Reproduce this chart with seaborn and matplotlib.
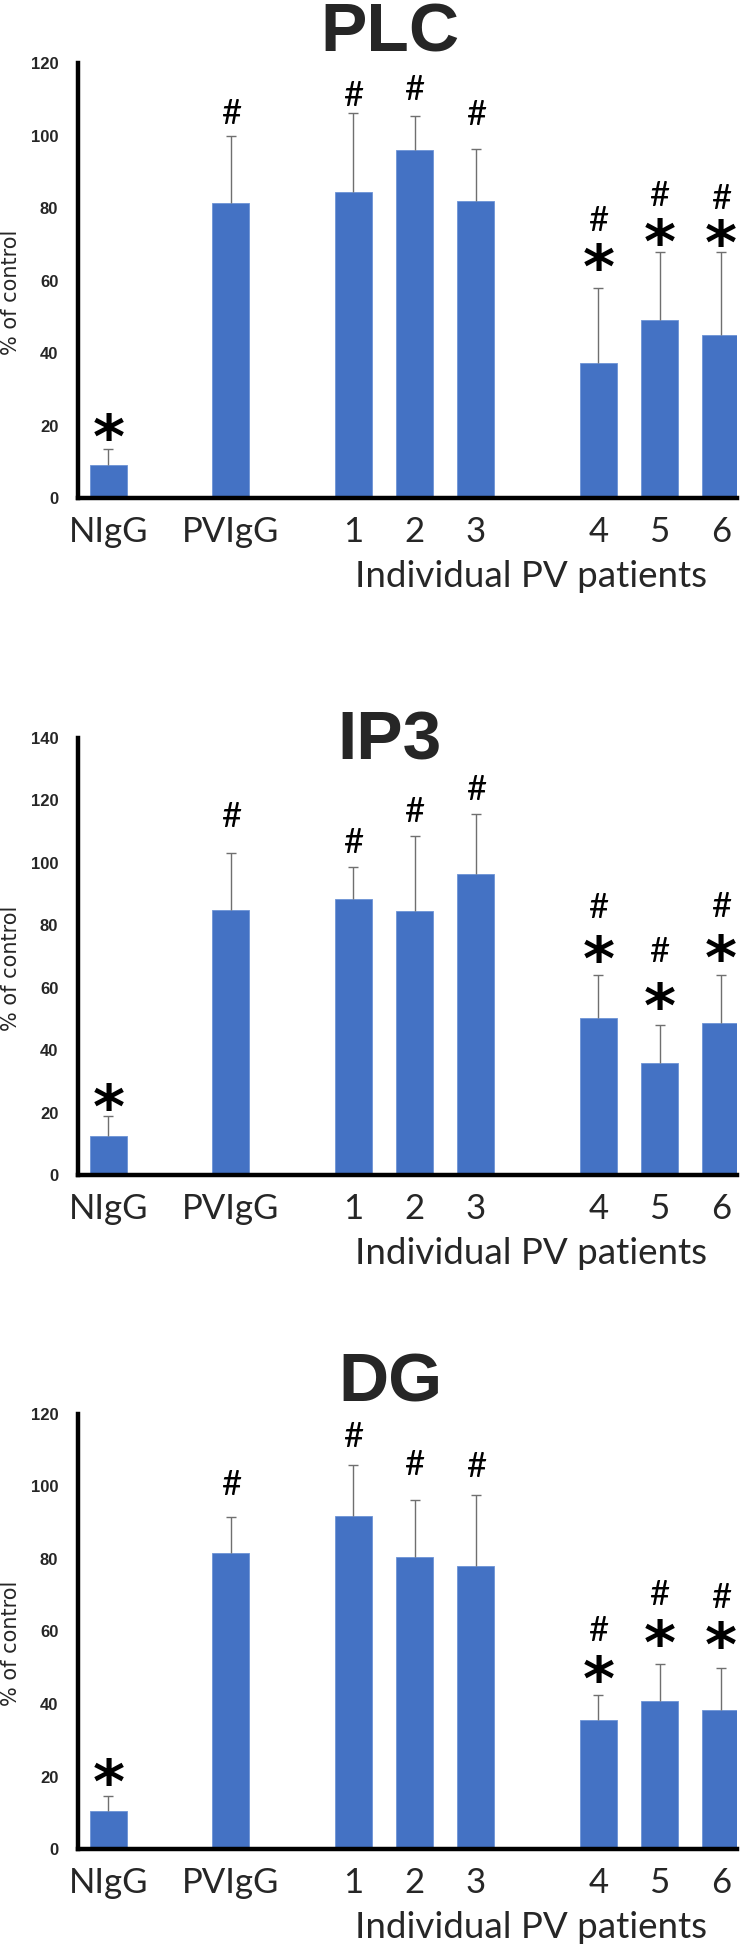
import numpy as np
import pandas as pd
import matplotlib
matplotlib.use("Agg")
import matplotlib.pyplot as plt
from matplotlib.font_manager import FontProperties
from matplotlib.textpath import TextPath
import seaborn as sns

# ---- data ----
groups = ["NIgG", "PVIgG", "1", "2", "3", "4", "5", "6"]
panel_titles = ["PLC", "IP3", "DG"]
x_title = "Individual PV patients"
y_title = "% of control"
y_max = [120, 140, 120]

plc_mean = [9.1, 81.4, 84.4, 95.9, 82.0, 37.4, 49.2, 45.0]
plc_sd = [4.4, 18.6, 21.8, 9.6, 14.3, 20.5, 18.8, 23.0]
ip3_mean = [12.4, 85.0, 88.4, 84.7, 96.3, 50.3, 35.8, 48.8]
ip3_sd = [6.5, 18.2, 10.4, 23.9, 19.5, 13.7, 12.3, 15.2]
dg_mean = [10.6, 81.7, 91.8, 80.4, 77.9, 35.6, 40.9, 38.5]
dg_sd = [4.0, 9.7, 14.1, 15.9, 19.6, 6.8, 10.1, 11.4]

# significance marks: "*" vs PVIgG, "#" vs NIgG (height of each mark, % of control)
plc_star = [19.8, None, None, None, None, 66.6, 73.5, 73.1]
plc_hash = [None, 106.6, 111.6, 113.1, 106.2, 77.2, 84.1, 83.2]
ip3_star = [25.2, None, None, None, None, 72.5, 57.5, 72.7]
ip3_hash = [None, 115.4, 107.3, 117.0, 124.2, 86.4, 72.1, 86.8]
dg_star = [21.4, None, None, None, None, 49.7, 59.6, 59.1]
dg_hash = [None, 101.1, 114.3, 106.4, 106.1, 60.8, 70.6, 69.8]

means = [plc_mean, ip3_mean, dg_mean]
sds = [plc_sd, ip3_sd, dg_sd]
stars = [plc_star, ip3_star, dg_star]
hashes = [plc_hash, ip3_hash, dg_hash]

# ---- layout ----
W, H = 750, 1946
order = ["NIgG", "_a", "PVIgG", "_b", "1", "2", "3", "_c", "4", "5", "6"]
ax_left, ax_right = 77.7, 736.8
ax_tops = [63.0, 738.0, 1413.6]
ax_bottoms = [498.3, 1175.0, 1849.3]
title_baselines = [51.7, 759.0, 1401.7]
title_x = 390.0
bar_color = "#4472C4"
err_color = "#6f6f6f"

sns.set_theme(style="white")
plt.rcParams["font.family"] = ["Lato", "DejaVu Sans"]

fig = plt.figure(figsize=(W / 100, H / 100), dpi=100)


def glyph_center(s, size, prop):
    ext = TextPath((0, 0), s, size=size, prop=prop).get_extents()
    return (ext.y0 + ext.y1) / 2.0


hash_prop = FontProperties(family="Lato", size=25)
star_prop = FontProperties(family="DejaVu Sans", weight="bold", size=44)
hash_off = glyph_center("#", 25, hash_prop)
star_off = glyph_center("*", 44, star_prop)

for i in range(3):
    rect = [ax_left / W, 1 - ax_bottoms[i] / H,
            (ax_right - ax_left) / W, (ax_bottoms[i] - ax_tops[i]) / H]
    ax = fig.add_axes(rect)
    df = pd.DataFrame({"group": groups, "value": means[i]})
    sns.barplot(data=df, x="group", y="value", order=order, color=bar_color,
                saturation=1, width=0.6, errorbar=None, ax=ax,
                edgecolor="#6d93d6", linewidth=0.6)

    pos = np.array([order.index(g) for g in groups])
    m = np.array(means[i])
    sd = np.array(sds[i])
    eb = ax.errorbar(pos, m, yerr=[np.zeros_like(sd), sd], fmt="none",
                     ecolor=err_color, elinewidth=1.0, capsize=3.6,
                     capthick=1.0, zorder=3)
    eb[1][0].set_visible(False)  # no lower cap

    for p, hy, sy in zip(pos, hashes[i], stars[i]):
        if hy is not None:
            ax.annotate("#", xy=(p, hy), xytext=(0, -hash_off),
                        textcoords="offset points", ha="center", va="baseline",
                        fontproperties=hash_prop, color="black")
        if sy is not None:
            ax.annotate("*", xy=(p, sy), xytext=(0, -star_off),
                        textcoords="offset points", ha="center", va="baseline",
                        fontproperties=star_prop, color="black")

    ax.set_xlim(-0.5, 10.26)
    ax.set_ylim(0, y_max[i])
    ax.set_yticks(np.arange(0, y_max[i] + 1, 20))
    ax.set_xticks(pos)
    ax.set_xticklabels(groups)
    ax.set_xlabel("")
    ax.set_ylabel("")
    ax.tick_params(axis="x", length=0, pad=13, labelsize=25)
    ax.tick_params(axis="y", length=0, pad=14)
    for lab in ax.get_yticklabels():
        lab.set_fontfamily(["Liberation Sans", "DejaVu Sans"])
        lab.set_fontweight("bold")
        lab.set_fontsize(12)

    sns.despine(ax=ax)
    for side in ["left", "bottom"]:
        ax.spines[side].set_color("black")
        ax.spines[side].set_linewidth(3.2)

    ax.text(-0.1015, 0.473, y_title, transform=ax.transAxes, rotation=90,
            ha="center", va="center", fontsize=15, family="DejaVu Sans")
    ax.annotate(x_title, xy=(0.688, 0), xycoords="axes fraction",
                xytext=(0, -63.9), textcoords="offset points",
                ha="center", va="baseline", fontsize=26.5)

    fig.text(title_x / W, 1 - title_baselines[i] / H, panel_titles[i],
             ha="center", va="baseline", fontsize=50, fontweight="bold",
             family=["Liberation Sans", "DejaVu Sans"])

fig.savefig("out.png", dpi=100)
